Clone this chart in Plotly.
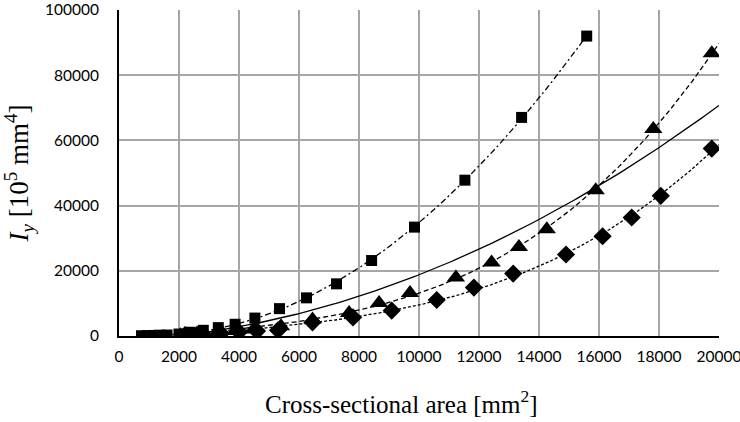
import numpy as np
import plotly.graph_objects as go

# Data
sq_x = [750, 950, 1150, 1350, 1600, 2000, 2370, 2810, 3310, 3870, 4530, 5350, 6250, 7250, 8420, 9850, 11530, 13420, 15590]
sq_y = [80, 120, 170, 250, 300, 600, 1150, 1750, 2570, 3600, 5500, 8400, 11700, 16000, 23150, 33400, 47800, 67050, 92000]

tri_x = [2050, 2300, 2600, 3250, 3870, 4480, 5400, 6450, 7670, 8670, 9700, 11230, 12420, 13330, 14260, 15890, 17810, 19760]
tri_y = [250, 450, 740, 1000, 1500, 1960, 2980, 5030, 7060, 10130, 13200, 17930, 22530, 27330, 32760, 44700, 63470, 86700]

dia_x = [2200, 2800, 3400, 4000, 4600, 5300, 6450, 7800, 9090, 10590, 11830, 13140, 14900, 16120, 17090, 18060, 19760]
dia_y = [300, 550, 800, 1200, 1500, 1750, 4200, 5700, 7800, 11050, 14860, 19150, 25000, 30600, 36350, 43000, 57500]

x_ticks = [0, 2000, 4000, 6000, 8000, 10000, 12000, 14000, 16000, 18000, 20000]
y_ticks = [0, 20000, 40000, 60000, 80000, 100000]


def poly_fit(xs, ys, x0, x1, deg=2):
    c = np.polyfit(np.asarray(xs, float), np.asarray(ys, float), deg)
    xx = np.linspace(x0, x1, 200)
    return xx, np.polyval(c, xx)


fig = go.Figure()

# trend lines
fx, fy = poly_fit(sq_x, sq_y, min(sq_x), max(sq_x), 2)
fig.add_trace(go.Scatter(x=fx, y=fy, mode="lines",
                         line=dict(color="black", width=1.3, dash="6px,3px,2px,3px"),
                         hoverinfo="skip", showlegend=False))
fx, fy = poly_fit(tri_x, tri_y, min(tri_x), 20000, 3)
fig.add_trace(go.Scatter(x=fx, y=fy, mode="lines",
                         line=dict(color="black", width=1.3, dash="5px,3px"),
                         hoverinfo="skip", showlegend=False))
fx, fy = poly_fit(dia_x, dia_y, min(dia_x), 20000, 3)
fig.add_trace(go.Scatter(x=fx, y=fy, mode="lines",
                         line=dict(color="black", width=1.3, dash="3px,2px"),
                         hoverinfo="skip", showlegend=False))
all_x = sq_x + tri_x + dia_x
all_y = sq_y + tri_y + dia_y
fx, fy = poly_fit(all_x, all_y, min(all_x), 20000, 2)
fig.add_trace(go.Scatter(x=fx, y=fy, mode="lines",
                         line=dict(color="black", width=1.3),
                         hoverinfo="skip", showlegend=False))

# markers
fig.add_trace(go.Scatter(x=sq_x, y=sq_y, mode="markers",
                         marker=dict(symbol="square", size=11, color="black"),
                         showlegend=False))
fig.add_trace(go.Scatter(x=tri_x, y=tri_y, mode="markers",
                         marker=dict(symbol="triangle-up", size=16, color="black"),
                         showlegend=False))
fig.add_trace(go.Scatter(x=dia_x, y=dia_y, mode="markers",
                         marker=dict(symbol="diamond", size=14, color="black"),
                         showlegend=False))

fig.update_layout(
    width=740, height=422,
    margin=dict(l=119, r=21, t=10, b=86),
    paper_bgcolor="white", plot_bgcolor="white",
    font=dict(family="Lato, Liberation Sans, sans-serif", size=15.5, color="black"),
    annotations=[dict(
        text="Cross-sectional area [mm<sup>2</sup>]",
        xref="paper", yref="paper", x=(401.5 - 119) / 600, y=-(402 - 336) / 326,
        xanchor="center", yanchor="middle", showarrow=False,
        font=dict(family="Liberation Serif, serif", size=25, color="black"),
    )],
)
fig.update_xaxes(
    range=[0, 20000], tickvals=x_ticks, ticktext=[str(v) for v in x_ticks],
    showgrid=True, gridcolor="#a6a6a6", gridwidth=1.5, automargin=False,
    showline=True, linecolor="black", linewidth=2, ticklabeloverflow="allow",
    zeroline=False, ticks="", ticklabelstandoff=5,
)
fig.update_yaxes(
    range=[0, 100000], tickvals=y_ticks, ticktext=[str(v) for v in y_ticks],
    showgrid=True, gridcolor="#a6a6a6", gridwidth=1.5, automargin=False,
    showline=True, linecolor="black", linewidth=2, ticklabeloverflow="allow",
    zeroline=False, ticks="", ticklabelstandoff=15,
    title=dict(text="<i>I</i><sub><i>y</i></sub> [10<sup>5</sup> mm<sup>4</sup>]",
               font=dict(family="Liberation Serif, serif", size=27), standoff=13),
)

fig.write_html("out.html")
